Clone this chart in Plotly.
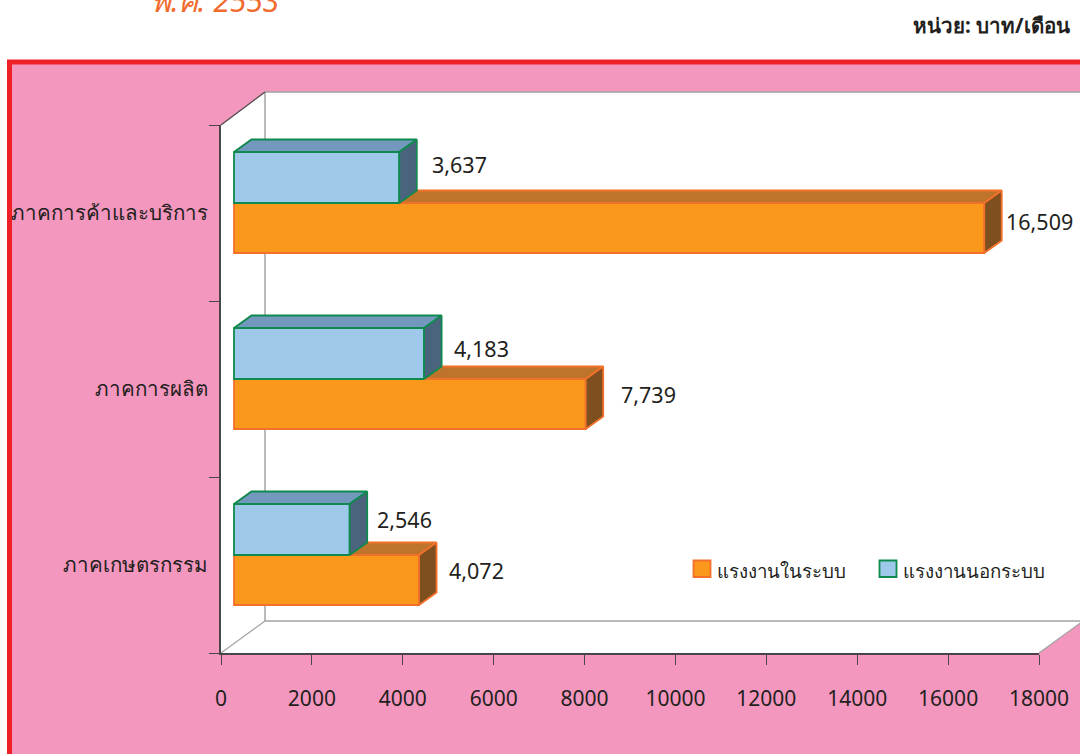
import plotly.graph_objects as go

W, H = 1080, 754

categories = ["ภาคเกษตรกรรม", "ภาคการผลิต", "ภาคการค้าและบริการ"]
formal = [4072, 7739, 16509]
informal = [2546, 4183, 3637]
x_ticks = [0, 2000, 4000, 6000, 8000, 10000, 12000, 14000, 16000, 18000]
series_names = ["แรงงานในระบบ", "แรงงานนอกระบบ"]

FONT = "Noto Sans, Tahoma, sans-serif"
TXT = "#231F20"
PINK, RED = "#F497BE", "#EE2129"
WALL = "#A3A3A3"
AXIS = "#4A4548"

# plot frame, in page pixels
X0, X1 = 221, 1039
Y0, Y1 = 653, 125
XU = (x_ticks[-1] - x_ticks[0]) / (X1 - X0)   # data units per px
YU = 3 / (Y0 - Y1)
BASE = 13 * XU
DX, DY = 17.5 * XU, 12.5 * YU
OR_OFF, OR_W = -40 * YU, 50 * YU
BL_OFF, BL_W = 10 * YU, 51 * YU

px = lambda v: v / W
py = lambda v: 1 - v / H

fig = go.Figure()

def face(xs, ys, fill, line):
    fig.add_trace(go.Scatter(x=xs, y=ys, fill="toself", fillcolor=fill, mode="lines",
                             line=dict(color=line, width=1.8), showlegend=False, hoverinfo="skip"))

OR = dict(front="#FA981B", top="#BE742A", side="#7E4F1F", line="#F3702B")
BL = dict(front="#9FC9EB", top="#7298BD", side="#4B647E", line="#0E8A4E")

ys = list(range(len(categories)))
fig.add_trace(go.Bar(y=ys, x=formal, base=BASE, orientation="h", width=OR_W, offset=OR_OFF,
                     name=series_names[0],
                     marker=dict(color=OR["front"], line=dict(color=OR["line"], width=1.8)),
                     showlegend=False, hoverinfo="skip"))
fig.add_trace(go.Bar(y=ys, x=informal, base=BASE, orientation="h", width=BL_W, offset=BL_OFF,
                     name=series_names[1],
                     marker=dict(color=BL["front"], line=dict(color=BL["line"], width=1.8)),
                     showlegend=False, hoverinfo="skip"))

for i, (o, b) in enumerate(zip(formal, informal)):
    ob, ot = i + OR_OFF, i + OR_OFF + OR_W
    bt = i + BL_OFF + BL_W
    xo, xb = BASE + o, BASE + b
    # orange top (the part not hidden by the blue box) and side
    face([xb, xb + DX, xo + DX, xo, xb], [ot, ot + DY, ot + DY, ot, ot], OR["top"], OR["line"])
    face([xo, xo + DX, xo + DX, xo, xo], [ob, ob + DY, ot + DY, ot, ob], OR["side"], OR["line"])
    # blue top and side
    face([BASE, BASE + DX, xb + DX, xb, BASE], [bt, bt + DY, bt + DY, bt, bt], BL["top"], BL["line"])
    face([xb, xb + DX, xb + DX, xb, xb], [ot, ot + DY, bt + DY, bt, ot], BL["side"], BL["line"])

shapes = [
    dict(type="rect", xref="paper", yref="paper", x0=px(9.5), x1=px(1100), y0=py(62), y1=py(790),
         fillcolor=PINK, line=dict(color=RED, width=5), layer="below"),
    dict(type="path", xref="paper", yref="paper",
         path=f"M{px(221)},{py(125)} L{px(265)},{py(92)} L{px(1100)},{py(92)} L{px(1100)},{py(621)} L{px(1083)},{py(621)} L{px(1039)},{py(653)} L{px(221)},{py(653)} Z",
         fillcolor="white", line=dict(width=0), layer="below"),
]
for a, b, col, w in [((265, 92), (1100, 92), WALL, 1.5), ((265, 92), (265, 621), WALL, 1.5),
                     ((265, 621), (1083, 621), WALL, 1.5), ((221, 653), (265, 621), WALL, 1.2),
                     ((1039, 653), (1083, 621), WALL, 1.2), ((221, 125), (265, 92), AXIS, 1.2)]:
    shapes.append(dict(type="line", xref="paper", yref="paper", x0=px(a[0]), y0=py(a[1]),
                       x1=px(b[0]), y1=py(b[1]), line=dict(color=col, width=w), layer="below"))

annos = [
    dict(xref="paper", yref="paper", x=px(215), y=py(0), xanchor="center", yanchor="middle",
         text="<i>พ.ศ. 2553</i>", showarrow=False,
         font=dict(family=FONT, size=30, color="#F26B2E")),
    dict(xref="paper", yref="paper", x=px(1072), y=py(25), xanchor="right", yanchor="middle",
         text="<b>หน่วย: บาท/เดือน</b>",
         showarrow=False, font=dict(family=FONT, size=20.5, color=TXT)),
]
# legend: swatches and texts
for name, c, sx0, tx in zip(series_names, (OR, BL), (693.5, 879.5), (715, 901)):
    shapes.append(dict(type="rect", xref="paper", yref="paper", x0=px(sx0), x1=px(sx0 + 17),
                       y0=py(560.5), y1=py(577), fillcolor=c["front"],
                       line=dict(color=c["line"], width=1.8)))
    annos.append(dict(xref="paper", yref="paper", x=px(tx), y=py(570), xanchor="left", yanchor="middle",
                      text=name, showarrow=False, font=dict(family=FONT, size=18.7, color=TXT)))

# value labels: horizontal and vertical nudges in px from each bar end
or_nudge = [(28, -5), (33, -6), (20, -9)]
bl_nudge = [(25, 46), (28, 40), (31, 48)]
for i in ys:
    for v, (sx, sy) in ((formal[i], or_nudge[i]), (informal[i], bl_nudge[i])):
        annos.append(dict(x=BASE + v, y=i, xref="x", yref="y", text=f"{v:,}", showarrow=False,
                          xanchor="left", xshift=sx, yshift=sy,
                          font=dict(family=FONT, size=21.5, color=TXT)))

fig.update_layout(
    width=W, height=H, margin=dict(l=0, r=0, t=0, b=0, autoexpand=False), autosize=False,
    paper_bgcolor="white", plot_bgcolor="rgba(0,0,0,0)", barmode="overlay", showlegend=False,
    font=dict(family=FONT, color=TXT), shapes=shapes, annotations=annos,
    xaxis=dict(domain=[px(X0), px(X1)], range=[x_ticks[0], x_ticks[-1]], tickmode="array",
               tickvals=x_ticks, ticktext=[str(t) for t in x_ticks], ticks="outside", ticklen=10,
               tickwidth=1.2, tickcolor=AXIS, showline=True, linecolor=AXIS, linewidth=1.5,
               showgrid=False, zeroline=False, tickfont=dict(family=FONT, size=21, color=TXT),
               ticklabelstandoff=16),
    yaxis=dict(domain=[py(Y0), py(Y1)], range=[-0.5, 2.5], tickmode="array", tickvals=ys,
               ticktext=categories, ticks="", showline=True, linecolor=AXIS, linewidth=1.5,
               showgrid=False, zeroline=False, tickfont=dict(family=FONT, size=20.5, color=TXT),
               ticklabelstandoff=7,
               minor=dict(tickmode="array", tickvals=[-0.5, 0.5, 1.5, 2.5], ticks="outside",
                          ticklen=10, tickwidth=1.2, tickcolor=AXIS, showgrid=False)),
)

fig.write_html("out.html", config=dict(displayModeBar=False),
               post_script="document.body.style.margin='0';document.body.style.overflow='hidden';")
